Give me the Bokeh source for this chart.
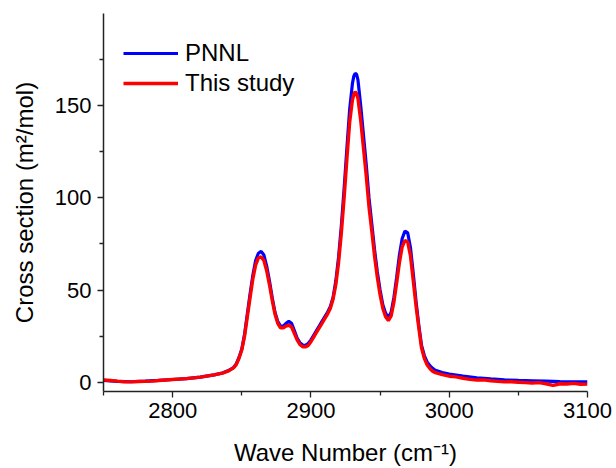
from bokeh.plotting import figure
from bokeh.models import ColumnDataSource, FixedTicker, Legend, LegendItem, Range1d
from bokeh.embed import file_html
from bokeh.resources import INLINE

# PNNL reference spectrum
pnnl_x = [2750, 2760, 2770, 2780, 2790, 2800, 2810, 2820, 2830, 2836, 2840, 2844, 2846, 2848,
          2850, 2852, 2854, 2856, 2858, 2860, 2862, 2864, 2866, 2868, 2870, 2872, 2874, 2876,
          2878, 2880, 2882, 2884, 2886, 2888, 2890, 2892, 2894, 2896, 2898, 2900, 2902, 2904,
          2906, 2908, 2910, 2912, 2914, 2916, 2918, 2920, 2922, 2924, 2926, 2928, 2930, 2931,
          2932, 2933, 2934, 2936, 2938, 2940, 2942, 2944, 2946, 2948, 2950, 2952, 2954, 2956,
          2958, 2960, 2962, 2964, 2966, 2968, 2970, 2972, 2974, 2976, 2978, 2980, 2982, 2984,
          2986, 2988, 2990, 2995, 3000, 3010, 3020, 3030, 3040, 3050, 3060, 3070, 3080, 3090, 3100]
pnnl_y = [1.0, 0.5, 0.3, 0.6, 1.0, 1.5, 2.0, 2.8, 4.0, 5.0, 6.2, 8.0, 10, 13.5,
          18, 26, 37, 48, 58, 66, 70, 71, 69, 63, 55, 46, 38, 33,
          30.5, 30.5, 32, 33, 32, 28, 24, 21.5, 20.2, 20, 21, 23, 25.5, 28,
          30.5, 33, 35.5, 38, 41, 46, 55, 68, 85, 105, 127, 148, 162, 166,
          167.5, 167, 164, 150, 134, 118, 100, 86, 72, 60, 50, 42, 37.5, 35,
          38, 46, 57, 69, 78, 82, 81, 73, 59, 44, 31, 20, 14.5, 11,
          9, 7.5, 6.5, 5.3, 4.5, 3.3, 2.4, 1.8, 1.3, 1.0, 0.8, 0.6, 0.4, 0.3, 0.2]

# This study
study_x = [2750, 2755, 2760, 2765, 2770, 2775, 2780, 2785, 2790, 2800, 2810, 2820, 2830, 2836,
           2840, 2844, 2846, 2848, 2850, 2852, 2854, 2856, 2858, 2860, 2862, 2864, 2866, 2868,
           2870, 2872, 2874, 2876, 2878, 2880, 2882, 2884, 2886, 2888, 2890, 2892, 2894, 2896,
           2898, 2900, 2902, 2904, 2906, 2908, 2910, 2912, 2914, 2916, 2918, 2920, 2922, 2924,
           2926, 2928, 2930, 2931, 2932, 2933, 2934, 2936, 2938, 2940, 2942, 2944, 2946, 2948,
           2950, 2952, 2954, 2956, 2958, 2960, 2962, 2964, 2966, 2968, 2970, 2972, 2974, 2976,
           2978, 2980, 2982, 2984, 2986, 2988, 2990, 2995, 3000, 3005, 3010, 3015, 3020, 3025,
           3030, 3040, 3045, 3050, 3055, 3060, 3065, 3070, 3075, 3078, 3080, 3085, 3090, 3095, 3100]
study_y = [1.3, 1.0, 0.6, 0.3, 0.2, 0.4, 0.5, 0.6, 1.0, 1.5, 2.0, 2.8, 4.0, 5.0,
           6.0, 7.8, 9.6, 13, 17.5, 25, 35.5, 46, 56, 63.5, 67.5, 68, 66, 60.5,
           53, 44.5, 37, 32, 29.5, 29.5, 30.5, 31, 30, 26.5, 23, 20.5, 19.3, 19.2,
           20, 22, 24.5, 27, 29.5, 32, 34.5, 37, 40, 45, 53, 65, 81, 100,
           121, 141, 153, 156, 157.5, 156.5, 154, 142, 127, 112, 95, 82, 68.5, 57,
           47.5, 40, 35.5, 33.5, 36, 43.5, 54, 65, 73.5, 77, 76, 68.5, 55, 41.5,
           29.5, 18.5, 13, 9.5, 7.5, 6, 5.2, 4.2, 3.3, 2.9, 2.2, 1.6, 1.2, 1.3,
           0.8, 0.2, 0.3, 0.0, -0.2, -0.4, -0.2, -0.8, -1.7, -1.2, -0.8, -0.9, -0.6, -1.1, -1.0]

x_major = [2800, 2900, 3000, 3100]
x_minor = [2750, 2850, 2950, 3050]
y_major = [0, 50, 100, 150]
y_minor = [25, 75, 125, 175]

FONT = "Liberation Sans"

p = figure(width=616, height=468, output_backend="svg", toolbar_location=None,
           x_range=Range1d(2750, 3100), y_range=Range1d(-5, 200),
           min_border_left=103, min_border_right=29, min_border_top=13, min_border_bottom=76)
p.outline_line_color = None
p.xgrid.visible = False
p.ygrid.visible = False
p.background_fill_color = "white"
p.border_fill_color = "white"

r1 = p.line(pnnl_x, pnnl_y, line_color="#0000FF", line_width=3.2)
r2 = p.line(study_x, study_y, line_color="#FF0000", line_width=3.4)

for ax in (p.xaxis[0], p.yaxis[0]):
    ax.axis_line_color = "#222222"
    ax.axis_line_width = 1.5
    ax.major_tick_line_color = "#222222"
    ax.minor_tick_line_color = "#222222"
    ax.major_tick_line_width = 1.3
    ax.minor_tick_line_width = 1.3
    ax.major_tick_in = 0
    ax.major_tick_out = 6
    ax.minor_tick_in = 0
    ax.minor_tick_out = 4
    ax.major_label_text_font = FONT
    ax.major_label_text_font_size = "22px"
    ax.major_label_text_color = "black"
    ax.axis_label_text_font = FONT
    ax.axis_label_text_font_size = "24px"
    ax.axis_label_text_font_style = "normal"
    ax.axis_label_text_color = "black"

p.xaxis[0].ticker = FixedTicker(ticks=x_major, minor_ticks=x_minor)
p.yaxis[0].ticker = FixedTicker(ticks=y_major, minor_ticks=y_minor)
p.xaxis[0].axis_label = "Wave Number (cm\u207b\u00b9)"
p.yaxis[0].axis_label = "Cross section (m\u00b2/mol)"
p.xaxis[0].major_label_standoff = 5
p.yaxis[0].major_label_standoff = 6
p.xaxis[0].axis_label_standoff = 18
p.yaxis[0].axis_label_standoff = 14

legend = Legend(items=[LegendItem(label="PNNL", renderers=[r1]),
                       LegendItem(label="This study", renderers=[r2])],
                location=(20, 293))
legend.border_line_color = None
legend.background_fill_alpha = 0
legend.margin = 0
legend.padding = 0
legend.spacing = 0
legend.glyph_width = 55
legend.glyph_height = 30
legend.label_height = 30
legend.label_standoff = 7
legend.label_text_font = FONT
legend.label_text_font_size = "24px"
legend.label_text_color = "black"
p.add_layout(legend, "center")

open("out.html", "w").write(file_html(p, INLINE))
